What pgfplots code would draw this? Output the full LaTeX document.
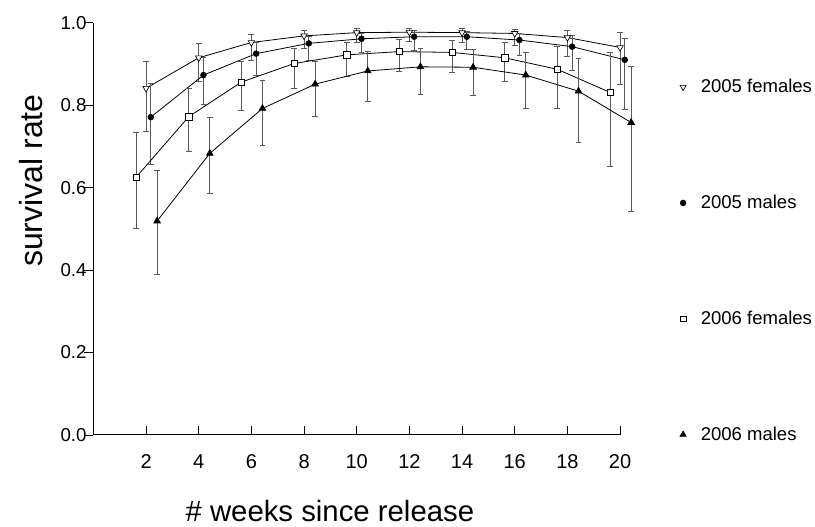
\documentclass[border=0pt]{standalone}
\usepackage{pgfplots}
\usepackage{pgfplotstable}
\pgfplotsset{compat=1.18}
\usepackage{fontspec}
\setmainfont{Liberation Sans}

\pgfplotstableread{
x y lo hi
2 0.841 0.736 0.905
4 0.915 0.858 0.950
6 0.952 0.909 0.972
8 0.968 0.937 0.982
10 0.976 0.952 0.987
12 0.977 0.954 0.986
14 0.976 0.952 0.986
16 0.974 0.944 0.984
18 0.964 0.918 0.981
20 0.940 0.851 0.976
}\fFive

\pgfplotstableread{
x y lo hi
2.18 0.771 0.655 0.853
4.18 0.873 0.802 0.916
6.18 0.925 0.871 0.953
8.18 0.950 0.908 0.966
10.18 0.961 0.927 0.974
12.18 0.966 0.932 0.981
14.18 0.966 0.934 0.978
16.18 0.958 0.920 0.974
18.18 0.942 0.883 0.970
20.18 0.910 0.790 0.961
}\mFive

\pgfplotstableread{
x y lo hi
1.62 0.625 0.501 0.734
3.62 0.772 0.687 0.840
5.62 0.856 0.788 0.905
7.62 0.901 0.840 0.938
9.62 0.922 0.869 0.953
11.62 0.930 0.881 0.960
13.62 0.928 0.880 0.956
15.62 0.915 0.857 0.952
17.62 0.887 0.792 0.942
19.62 0.831 0.652 0.927
}\fSix

\pgfplotstableread{
x y lo hi
2.42 0.519 0.390 0.642
4.42 0.683 0.585 0.771
6.42 0.792 0.703 0.859
8.42 0.851 0.772 0.907
10.42 0.883 0.810 0.930
12.42 0.893 0.826 0.937
14.42 0.892 0.824 0.935
16.42 0.873 0.791 0.927
18.42 0.834 0.709 0.913
20.42 0.758 0.543 0.893
}\mSix

\begin{document}
\begin{tikzpicture}
\begin{axis}[
  width=395pt, height=309.2pt, scale only axis,
  xmin=0, xmax=20, ymin=0, ymax=1,
  axis lines*=left,
  axis line style={black, line width=0.75pt},
  clip=false,
  tick align=inside,
  major tick length=6.75pt,
  tick style={black, line width=0.6pt},
  y tick style={xshift=-6.75pt},
  xtick={2,4,...,20},
  ytick={0,0.2,0.4,0.6,0.8,1.0},
  /pgf/number format/assume math mode=true,
  yticklabel style={/pgf/number format/fixed, /pgf/number format/fixed zerofill, /pgf/number format/precision=1},
  yticklabel style={font=\fontsize{14}{16}\selectfont, xshift=-1.6pt},
  xticklabel style={font=\fontsize{15}{17}\selectfont, anchor=base, yshift=-25pt},
  xlabel={\# weeks since release},
  ylabel={survival rate},
  xlabel style={font=\fontsize{22}{26}\selectfont, at={(rel axis cs:0.449,-0.1855)}, anchor=center},
  ylabel style={font=\fontsize{24}{28}\selectfont, at={(rel axis cs:-0.1185,0.617)}, anchor=center},
  legend image code/.code={\draw[#1] plot coordinates {(0pt,0pt)};},
  legend cell align=left,
  legend style={draw=none, fill=none, inner sep=0pt, outer sep=0pt,
    at={(rel axis cs:1.114,0.869)}, anchor=north west,
    row sep=71.3pt, column sep=9pt,
    font=\fontsize{13.9}{15}\selectfont},
  every axis plot/.append style={black, line width=0.6pt},
  error bars/error bar style={black!65, line width=0.75pt},
  error bars/error mark options={black!65, line width=0.75pt, mark size=2.2pt, rotate=90},
]
\addplot[forget plot, mark=triangle*, mark size=2.8pt, mark options={rotate=180, fill=white, solid, line width=0.5pt},
  error bars/.cd, y dir=both, y explicit]
  table[x=x, y=y, y error plus expr=\thisrow{hi}-\thisrow{y}, y error minus expr=\thisrow{y}-\thisrow{lo}] {\fFive};
\addplot[forget plot, mark=*, mark size=2.1pt, mark options={fill=black, solid},
  error bars/.cd, y dir=both, y explicit]
  table[x=x, y=y, y error plus expr=\thisrow{hi}-\thisrow{y}, y error minus expr=\thisrow{y}-\thisrow{lo}] {\mFive};
\addplot[forget plot, mark=square*, mark size=2.4pt, mark options={fill=white, solid, line width=0.5pt},
  error bars/.cd, y dir=both, y explicit]
  table[x=x, y=y, y error plus expr=\thisrow{hi}-\thisrow{y}, y error minus expr=\thisrow{y}-\thisrow{lo}] {\fSix};
\addplot[forget plot, mark=triangle*, mark size=2.8pt, mark options={fill=black, solid},
  error bars/.cd, y dir=both, y explicit]
  table[x=x, y=y, y error plus expr=\thisrow{hi}-\thisrow{y}, y error minus expr=\thisrow{y}-\thisrow{lo}] {\mSix};

\addlegendimage{only marks, mark=triangle*, mark size=2.6pt, mark options={rotate=180, fill=white, line width=0.5pt}}
\addlegendentry{2005 females}
\addlegendimage{only marks, mark=*, mark size=2.1pt, mark options={fill=black}}
\addlegendentry{2005 males}
\addlegendimage{only marks, mark=square*, mark size=2.2pt, mark options={fill=white, line width=0.5pt}}
\addlegendentry{2006 females}
\addlegendimage{only marks, mark=triangle*, mark size=2.6pt, mark options={fill=black}}
\addlegendentry{2006 males}
\end{axis}
\pgfresetboundingbox
\path[use as bounding box] (-70.05pt,-69pt) rectangle (541.2pt,326.25pt);
\end{tikzpicture}
\end{document}
